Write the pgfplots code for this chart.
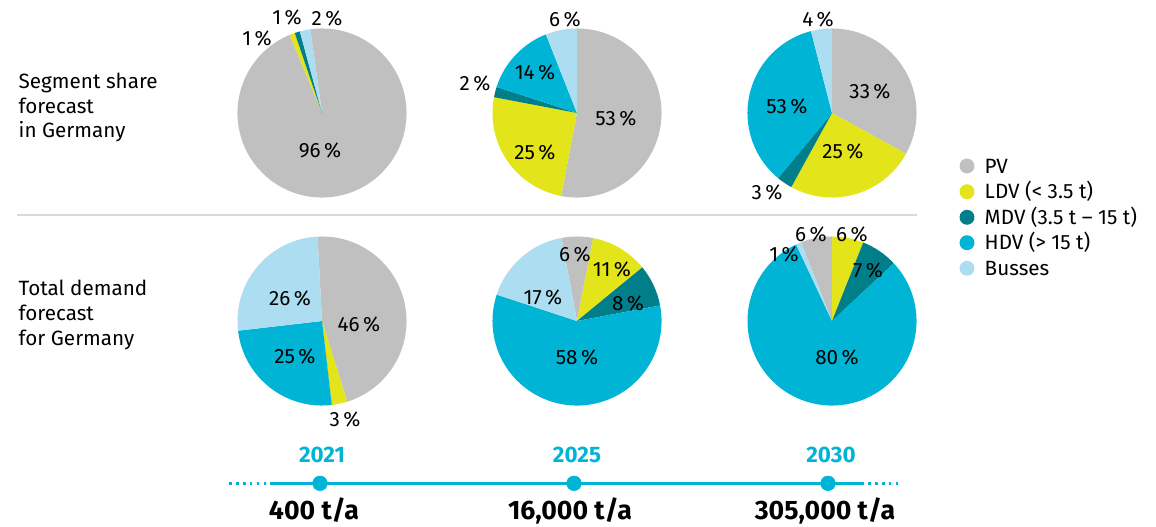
\documentclass[border=0pt]{standalone}
\usepackage{fontspec}
\setmainfont{Fira Sans}
\usepackage{pgfplots}
\usepackage{pgfplotstable}
\pgfplotsset{compat=1.18}

\definecolor{pv}{RGB}{192,192,192}
\definecolor{ldv}{RGB}{228,228,26}
\definecolor{mdv}{RGB}{0,126,138}
\definecolor{hdv}{RGB}{0,180,214}
\definecolor{bus}{RGB}{172,221,240}
\definecolor{rule}{RGB}{218,218,218}

\newcommand\lbl{\fontsize{15.5}{18.6}\selectfont}
\newcommand\yr{\fontsize{16.8}{19}\selectfont\bfseries}
\newcommand\ta{\fontsize{20}{24}\selectfont\bfseries}

% one row per pie: centre (image px), start angle, shares in %
\pgfplotstableread{
cx  cy  start PV LDV MDV HDV Bus
322 113 98    96 1   1   0   2
577 113 90    53 25  2   14  6
832 113 90    33 25  3   35  4
322 321 93    46 3   0   25  26
577 321 100.6 6  11  8   58  17
832 321 111.5 6  6   7   80  1
}\shares

\begin{document}
\begin{tikzpicture}
\begin{axis}[name=ax, x=0.75pt, y=0.75pt, xmin=0, xmax=1156, ymin=0, ymax=526,
  y dir=reverse, hide axis, scale only axis, clip=false, disabledatascaling]

% pies
\foreach \r in {0,...,5}{
  \pgfplotstablegetelem{\r}{cx}\of\shares \let\cx\pgfplotsretval
  \pgfplotstablegetelem{\r}{cy}\of\shares \let\cy\pgfplotsretval
  \pgfplotstablegetelem{\r}{start}\of\shares
  \global\let\cur\pgfplotsretval
  \foreach \col/\c in {PV/pv,LDV/ldv,MDV/mdv,HDV/hdv,Bus/bus}{
    \pgfplotstablegetelem{\r}{\col}\of\shares
    \pgfmathsetmacro\nxt{\cur-3.6*\pgfplotsretval}
    \edef\tmp{\noexpand\fill[\c] (axis cs:\cx,\cy) -- ++(\cur:63.4pt)
      arc[start angle=\cur, end angle=\nxt, radius=63.4pt] -- cycle;}
    \tmp
    \global\let\cur\nxt
  }
}

% pie labels
\begin{scope}[font=\lbl]
\node at (axis cs:320,150) {96\,\%};
\node at (axis cs:257,38) {1\,\%};
\node at (axis cs:287,17) {1\,\%};
\node at (axis cs:327,18) {2\,\%};

\node at (axis cs:565,19) {6\,\%};
\node at (axis cs:535,72) {14\,\%};
\node at (axis cs:475,83) {2\,\%};
\node at (axis cs:616,118) {53\,\%};
\node at (axis cs:535,152) {25\,\%};

\node at (axis cs:818,19) {4\,\%};
\node at (axis cs:870,91) {33\,\%};
\node at (axis cs:843,151) {25\,\%};
\node at (axis cs:787,106) {53\,\%};
\node at (axis cs:767,192) {3\,\%};

\node at (axis cs:290,298) {26\,\%};
\node at (axis cs:359,324) {46\,\%};
\node at (axis cs:295,356) {25\,\%};
\node at (axis cs:345,419) {3\,\%};

\node at (axis cs:575,254) {6\,\%};
\node at (axis cs:612,269) {11\,\%};
\node at (axis cs:628,303) {8\,\%};
\node at (axis cs:543,297) {17\,\%};
\node at (axis cs:577,357) {58\,\%};

\node at (axis cs:784,254) {1\,\%};
\node at (axis cs:811,234) {6\,\%};
\node at (axis cs:852,234) {6\,\%};
\node at (axis cs:868,270) {7\,\%};
\node at (axis cs:837,357) {80\,\%};

% row titles
\node[anchor=west, align=left] at (axis cs:14,107.5) {Segment share\\forecast\\in Germany};
\node[anchor=west, align=left] at (axis cs:14,315) {Total demand\\forecast\\for Germany};

% legend
\foreach \y/\c/\t in {166/pv/PV, 191.7/ldv/LDV (< 3.5 t), 217.3/mdv/MDV (3.5 t – 15 t),
                      242.7/hdv/HDV (> 15 t), 268.3/bus/Busses}{
  \edef\tmp{\noexpand\fill[\c] (axis cs:967,\y) circle[radius=5.6pt];}\tmp
  \edef\tmp{\noexpand\node[anchor=west] at (axis cs:980,\y) {\t};}\tmp
}
\end{scope}

% separator
\draw[rule, line width=1.4pt] (axis cs:17,215) -- (axis cs:917,215);

% timeline
\draw[hdv, line width=2.2pt] (axis cs:270,483.3) -- (axis cs:864,483.3);
\draw[hdv, line width=2.2pt, dash pattern=on 2pt off 3.2pt] (axis cs:229,483.3) -- (axis cs:268,483.3);
\draw[hdv, line width=2.2pt, dash pattern=on 2pt off 3.2pt] (axis cs:868,483.3) -- (axis cs:902,483.3);
\addplot[only marks, mark=*, mark size=5.5pt, color=hdv] coordinates {(320,483.3) (574,483.3) (828,483.3)};

\node[font=\yr, text=hdv] at (axis cs:322,455) {2021};
\node[font=\yr, text=hdv] at (axis cs:577,455) {2025};
\node[font=\yr, text=hdv] at (axis cs:831,455) {2030};

\begin{scope}[every node/.style={font=\ta, inner sep=0pt, anchor=base}]
\node at (axis cs:314,519.5) {400 t/a};
\node at (axis cs:570,519.5) {16,000 t/a};
\node at (axis cs:825,519.5) {305,000 t/a};
\end{scope}
\end{axis}
\pgfresetboundingbox
\useasboundingbox (ax.south west) rectangle (ax.north east);
\end{tikzpicture}
\end{document}
